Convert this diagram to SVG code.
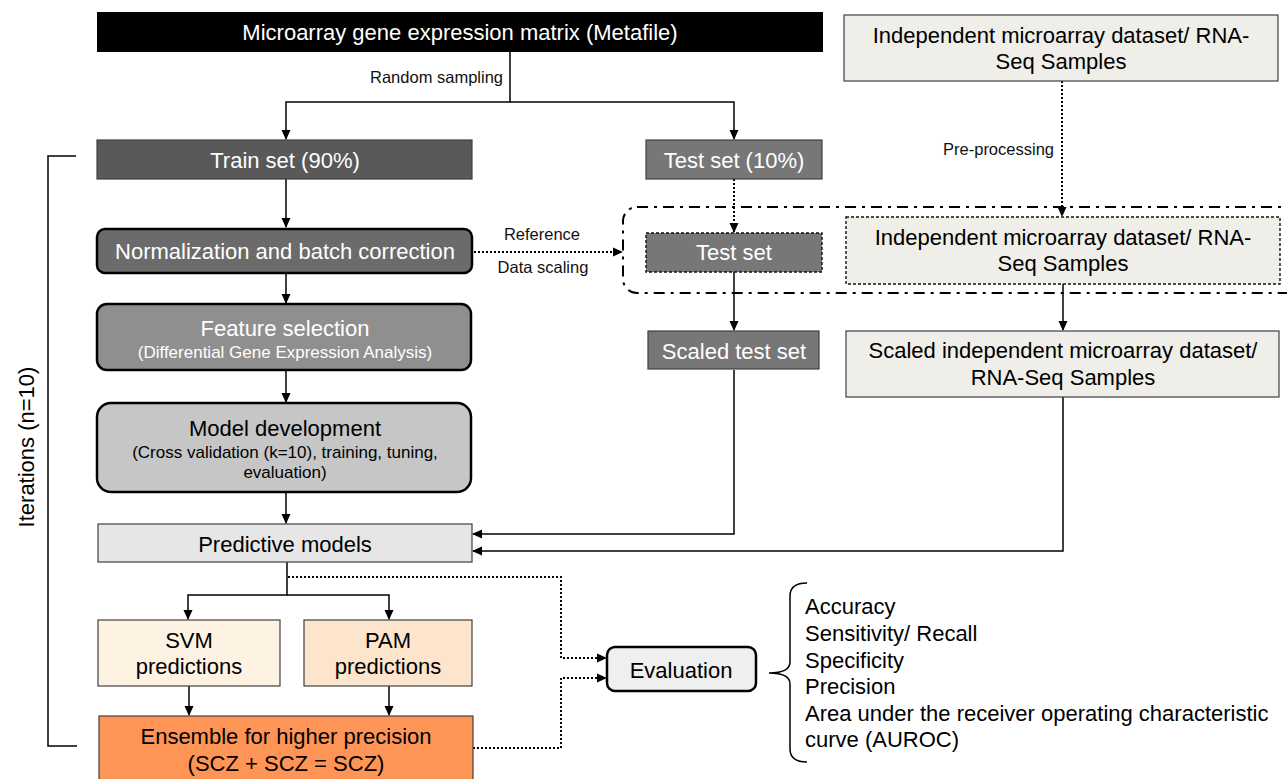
<svg xmlns="http://www.w3.org/2000/svg" width="1287" height="779" viewBox="0 0 1287 779">
<defs>
<marker id="ah" markerWidth="10" markerHeight="10" refX="9" refY="5" orient="auto" markerUnits="userSpaceOnUse">
<path d="M0,0.5 L10,5 L0,9.5 Z" fill="#000"/>
</marker>
<style>
text{font-family:"Liberation Sans",Arial,sans-serif;text-anchor:middle}
.t22{font-size:22px}
.t17{font-size:17px}
.w{fill:#fff}
.k{fill:#000}
.box{stroke:#404040;stroke-width:1.2}
.rbox{stroke:#000;stroke-width:2.5}
.dbox{stroke:#111;stroke-width:1.4;stroke-dasharray:3 2}
.ln{fill:none;stroke:#000;stroke-width:1.5}
.dot{fill:none;stroke:#000;stroke-width:2;stroke-dasharray:2 2}
.dd{fill:none;stroke:#000;stroke-width:2;stroke-dasharray:11 6 3 6}
.lbl{font-size:16.5px;fill:#111}
</style>
</defs>
<rect width="1287" height="779" fill="#fff"/>

<g id="connectors">
<path class="ln" d="M510,52 V102 H286 V139" marker-end="url(#ah)"/>
<path class="ln" d="M510,102 H734 V139" marker-end="url(#ah)"/>
<path class="ln" d="M286,179 V227" marker-end="url(#ah)"/>
<path class="ln" d="M286,273 V303" marker-end="url(#ah)"/>
<path class="ln" d="M286,370 V402" marker-end="url(#ah)"/>
<path class="ln" d="M286,492 V523" marker-end="url(#ah)"/>
<path class="dot" d="M734,179 V232" marker-end="url(#ah)"/>
<path class="dot" d="M474,252 H622" marker-end="url(#ah)"/>
<path class="dot" d="M1062,81 V216" marker-end="url(#ah)"/>
<path class="ln" d="M734,272 V330" marker-end="url(#ah)"/>
<path class="ln" d="M1063,284 V330" marker-end="url(#ah)"/>
<path class="ln" d="M734,370 V534 H473" marker-end="url(#ah)"/>
<path class="ln" d="M1063,397 V551 H473" marker-end="url(#ah)"/>
<path class="ln" d="M287,562 V595 H188 V619" marker-end="url(#ah)"/>
<path class="ln" d="M287,595 H389 V619" marker-end="url(#ah)"/>
<path class="ln" d="M189,686 V715" marker-end="url(#ah)"/>
<path class="ln" d="M389,686 V715" marker-end="url(#ah)"/>
<path class="dot" d="M288,577 H561 V658 H606" marker-end="url(#ah)"/>
<path class="dot" d="M473,748 H561 V678 H606" marker-end="url(#ah)"/>
<path class="ln" d="M76,156 H48 V746 H77" stroke-width="2"/>
<path class="ln" d="M807,583 Q790,583 790,596 L790,662 Q790,673 769,673 Q790,673 790,684 L790,749 Q790,762 807,762" stroke-width="2"/>
<rect class="dd" x="623" y="207" width="680" height="86" rx="14"/>
<text class="lbl" x="503" y="83" style="text-anchor:end">Random sampling</text>
<text class="lbl" x="542" y="240">Reference</text>
<text class="lbl" x="543" y="273">Data scaling</text>
<text class="lbl" x="1054" y="155" style="text-anchor:end">Pre-processing</text>
</g>

<g id="matrix">
<rect x="97" y="12" width="726" height="40" fill="#000"/>
<text class="t22 w" x="460" y="40">Microarray gene expression matrix (Metafile)</text>
</g>
<g id="indep-top">
<rect class="box" x="844" y="15" width="434" height="66" fill="#efeee8"/>
<text class="t22 k" x="1061" y="43">Independent microarray dataset/ RNA-</text>
<text class="t22 k" x="1061" y="69">Seq Samples</text>
</g>
<g id="train">
<rect class="box" x="97" y="140" width="375" height="39" fill="#595959"/>
<text class="t22 w" x="285" y="168">Train set (90%)</text>
</g>
<g id="test10">
<rect class="box" x="646" y="140" width="176" height="39" fill="#777"/>
<text class="t22 w" x="734" y="168">Test set (10%)</text>
</g>
<g id="normalization">
<rect class="rbox" x="97" y="229" width="375" height="44" rx="8" fill="#6b6b6b"/>
<text class="t22 w" x="285" y="259">Normalization and batch correction</text>
</g>
<g id="testset">
<rect class="dbox" x="646" y="233" width="176" height="39" fill="#777"/>
<text class="t22 w" x="734" y="260">Test set</text>
</g>
<g id="indep-mid">
<rect class="dbox" x="846" y="217" width="434" height="67" fill="#efeee8"/>
<text class="t22 k" x="1063" y="245">Independent microarray dataset/ RNA-</text>
<text class="t22 k" x="1063" y="271">Seq Samples</text>
</g>
<g id="feature">
<rect class="rbox" x="97" y="304" width="374" height="66" rx="10" fill="#8f8f8f"/>
<text class="t22 w" x="285" y="336">Feature selection</text>
<text class="t17 w" x="285" y="358">(Differential Gene Expression Analysis)</text>
</g>
<g id="scaledtest">
<rect class="box" x="648" y="331" width="171" height="38" fill="#777"/>
<text class="t22 w" x="734" y="359">Scaled test set</text>
</g>
<g id="scaledindep">
<rect class="box" x="846" y="331" width="433" height="66" fill="#efeee8"/>
<text class="t22 k" x="1063" y="358">Scaled independent microarray dataset/</text>
<text class="t22 k" x="1063" y="385">RNA-Seq Samples</text>
</g>
<g id="model">
<rect class="rbox" x="97" y="403" width="374" height="89" rx="14" fill="#c6c6c6"/>
<text class="t22 k" x="285" y="436">Model development</text>
<text class="t17 k" x="285" y="458">(Cross validation (k=10), training, tuning,</text>
<text class="t17 k" x="285" y="478">evaluation)</text>
</g>
<g id="predictive">
<rect class="box" x="98" y="524" width="374" height="38" fill="#e6e6e6"/>
<text class="t22 k" x="285" y="552">Predictive models</text>
</g>
<g id="svm">
<rect class="box" x="98" y="620" width="182" height="66" fill="#fef2e2"/>
<text class="t22 k" x="189" y="648">SVM</text>
<text class="t22 k" x="189" y="674">predictions</text>
</g>
<g id="pam">
<rect class="box" x="304" y="620" width="168" height="66" fill="#fde4cc"/>
<text class="t22 k" x="388" y="648">PAM</text>
<text class="t22 k" x="388" y="674">predictions</text>
</g>
<g id="ensemble">
<rect class="box" x="99" y="716" width="374" height="70" fill="#fe9456"/>
<text class="t22 k" x="286" y="744">Ensemble for higher precision</text>
<text class="t22 k" x="286" y="771">(SCZ + SCZ = SCZ)</text>
</g>
<g id="evaluation">
<rect class="rbox" x="607" y="647" width="149" height="44" rx="8" fill="#efefef"/>
<text class="t22 k" x="681" y="678">Evaluation</text>
</g>
<g id="iterations">
<text class="t22 k" transform="translate(34,447) rotate(-90)">Iterations (n=10)</text>
</g>
<g id="metrics">
<text class="t22 k" style="text-anchor:start" x="805" y="614">Accuracy</text>
<text class="t22 k" style="text-anchor:start" x="805" y="641">Sensitivity/ Recall</text>
<text class="t22 k" style="text-anchor:start" x="805" y="668">Specificity</text>
<text class="t22 k" style="text-anchor:start" x="805" y="694">Precision</text>
<text class="t22 k" style="text-anchor:start" x="805" y="721">Area under the receiver operating characteristic</text>
<text class="t22 k" style="text-anchor:start" x="805" y="747">curve (AUROC)</text>
</g>
</svg>
